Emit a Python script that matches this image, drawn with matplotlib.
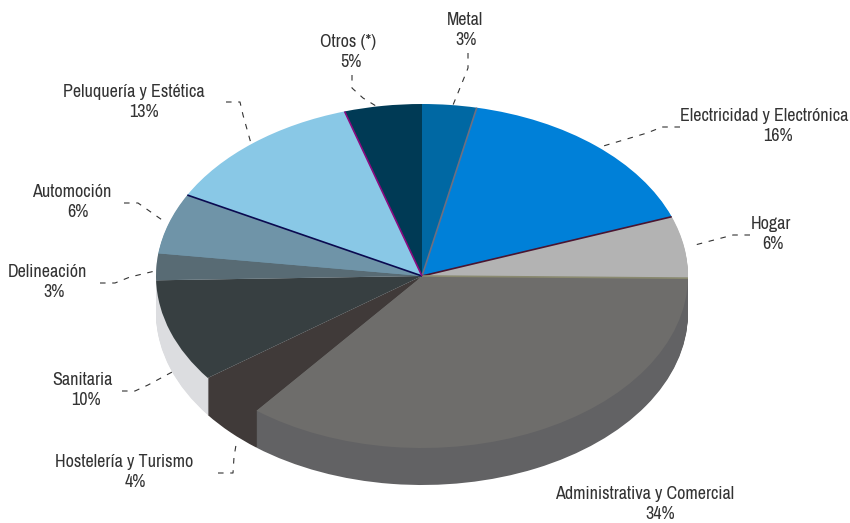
import numpy as np
import matplotlib
matplotlib.use('Agg')
import matplotlib.pyplot as plt
from matplotlib import font_manager

W, H = 850, 523

categorias = ['Metal', 'Electricidad y Electrónica', 'Hogar', 'Administrativa y Comercial',
              'Hostelería y Turismo', 'Sanitaria', 'Delineación', 'Automoción',
              'Peluquería y Estética', 'Otros (*)']
porcentajes = ['3%', '16%', '6%', '34%', '4%', '10%', '3%', '6%', '13%', '5%']
# slice shares as they are drawn in the picture (they differ a little from the printed labels)
partes = [3.3, 16.1, 5.8, 35.5, 4.2, 9.7, 2.5, 5.7, 12.5, 4.7]

colores = ['#0068a3', '#0080d8', '#b3b3b3', '#6e6d6b', '#403a39',
           '#373f41', '#586b74', '#6f94a8', '#89c8e6', '#003a55']
paredes = ['#0068a3', '#0080d8', '#b3b3b3', '#626264', '#403a39',
           '#dcdde0', '#dcdde0', '#6f94a8', '#89c8e6', '#003a55']
separadores = ['#6f6f80', '#4a1530', '#8a8a70', None, None, None, None, '#0a0a50', '#8a0a80', None]

# label positions in pixels: name (x, y), percent (x, y)
pos_nombre = [(465, 20), (764, 116), (771, 224), (645, 494), (124, 462),
              (82, 380), (47, 272), (72, 192), (134, 92), (348, 42)]
pos_pct = [(466, 40), (778, 136), (773, 244), (660, 514), (135, 482),
           (86, 400), (54, 292), (78, 212), (144, 112), (351, 62)]

# leader lines in pixels
guias = [[(468, 53), (468, 68), (462, 83), (453, 105)],
         [(680, 127), (662, 127), (647, 133), (600, 147)],
         [(750, 235), (733, 235), (695, 245)],
         [],
         [(218, 473), (233, 473), (234, 457), (236, 445)],
         [(122, 391), (135, 391), (148, 385), (174, 371)],
         [(100, 283), (115, 283), (130, 277), (155, 271)],
         [(124, 203), (138, 203), (165, 222)],
         [(226, 102), (240, 102), (243, 115), (252, 147)],
         [(352, 75), (352, 88), (363, 98), (376, 106)]]

cx, cy, rx, ry = 422, 276, 266, 172
prof = 37

fig = plt.figure(figsize=(W / 100, H / 100), dpi=100)
ax = fig.add_axes([0, 0, 1, 1])

# side wall: same pie stacked downwards
for d in np.arange(prof, 0, -1):
    ax.pie(partes, colors=paredes, startangle=90, counterclock=False,
           center=(0, -d / ry), wedgeprops={'linewidth': 0})

wedges, _ = ax.pie(partes, colors=colores, startangle=90, counterclock=False,
                   wedgeprops={'linewidth': 0})

for w, c in zip(wedges, separadores):
    if c is None:
        continue
    # edge where the slice ends going clockwise
    a = np.radians(w.theta1)
    ax.plot([0, np.cos(a)], [0, np.sin(a)], color=c, lw=1.2, solid_capstyle='butt')

ax.set_aspect('auto')
ax.set_xlim(-cx / rx, (W - cx) / rx)
ax.set_ylim((cy - H) / ry, cy / ry)
ax.axis('off')

# narrow font if there is one, otherwise a smaller normal one
instaladas = {f.name for f in font_manager.fontManager.ttflist}
if 'Archivo Narrow' in instaladas:
    fuente, tam = ['Archivo Narrow', 'DejaVu Sans'], 13
else:
    fuente, tam = ['Liberation Sans', 'DejaVu Sans'], 11


def fx(p):
    return p[0] / W, 1 - p[1] / H


for nombre, pct, pn, pp, g in zip(categorias, porcentajes, pos_nombre, pos_pct, guias):
    x, y = fx(pn)
    fig.text(x, y, nombre, ha='center', va='center', fontsize=tam, color='#333333', family=fuente)
    x, y = fx(pp)
    fig.text(x, y, pct, ha='center', va='center', fontsize=tam, color='#333333', family=fuente)
    if g:
        xs, ys = zip(*[fx(p) for p in g])
        fig.add_artist(plt.Line2D(xs, ys, color='#333333', lw=0.8, ls=(0, (5, 6))))

fig.savefig('out.png', dpi=100)
